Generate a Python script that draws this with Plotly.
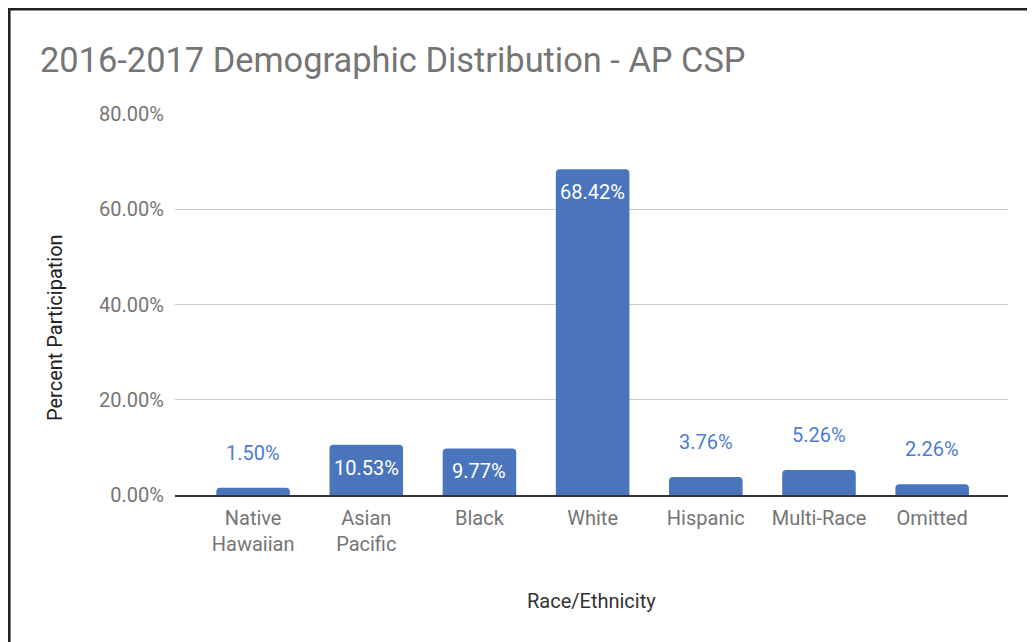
import plotly.graph_objects as go

categories = ["Native<br>Hawaiian", "Asian<br>Pacific", "Black", "White", "Hispanic", "Multi-Race", "Omitted"]
values = [1.50, 10.53, 9.77, 68.42, 3.76, 5.26, 2.26]
y_ticks = [0, 20, 40, 60, 80]

TITLE = "2016-2017 Demographic Distribution - AP CSP"
X_TITLE = "Race/Ethnicity"
Y_TITLE = "Percent Participation"

BAR = "#4a75bd"
LABEL_OUT = "#4d7cd0"
GRAY = "#757575"
FONT = "Roboto"

OFF = 8  # default page body margin
W, H = 1035 - OFF, 642 - OFF
L = 175 - OFF
T = 114 - OFF
R = W - (1008 - OFF)
B = H - (495 - OFF)
pw, ph = W - L - R, H - T - B

def px_x(x):
    return (x - OFF - L) / pw

def px_y(y):
    return (H - B - (y - OFF)) / ph

fig = go.Figure()
fig.add_trace(go.Bar(
    x=categories, y=values, width=0.65,
    marker=dict(color=BAR, cornerradius=4, line=dict(width=0)),
    hoverinfo="skip",
))

annotations = []
for c, v in zip(categories, values):
    inside = v > 8
    annotations.append(dict(
        x=c, y=v, xref="x", yref="y",
        text=f"{v:.2f}%", showarrow=False,
        yanchor="top" if inside else "bottom",
        yshift=-9 if inside else 21,
        font=dict(family=FONT, size=20, color="white" if inside else LABEL_OUT),
    ))

annotations.append(dict(
    x=px_x(591), y=px_y(601), xref="paper", yref="paper",
    text=X_TITLE, showarrow=False, xanchor="center", yanchor="middle",
    font=dict(family=FONT, size=20, color="#333333"),
))
annotations.append(dict(
    x=px_x(55), y=px_y(328), xref="paper", yref="paper",
    text=Y_TITLE, showarrow=False, textangle=-90, xanchor="center", yanchor="middle",
    font=dict(family=FONT, size=20, color="#222222"),
))

FX, FY = OFF + 1.3, OFF + 1.3
shapes = [
    dict(type="line", xref="paper", yref="paper",
         x0=px_x(FX), x1=px_x(FX), y0=px_y(OFF), y1=px_y(700),
         line=dict(color="#222222", width=2.6)),
    dict(type="line", xref="paper", yref="paper",
         x0=px_x(OFF), x1=px_x(1100), y0=px_y(FY), y1=px_y(FY),
         line=dict(color="#222222", width=2.6)),
]

fig.update_layout(
    width=W, height=H,
    margin=dict(l=L, r=R, t=T, b=B),
    paper_bgcolor="white", plot_bgcolor="white",
    title=dict(text=TITLE, x=(40 - OFF) / W, xanchor="left",
               y=1 - (60 - OFF) / H, yanchor="middle",
               font=dict(family=FONT, size=34.4, color=GRAY)),
    showlegend=False,
    annotations=annotations,
    shapes=shapes,
    font=dict(family=FONT),
)

fig.update_xaxes(
    range=[-0.69, 6.67],
    showline=True, linecolor="#333333", linewidth=1.5,
    showgrid=False, ticks="",
    ticklabelstandoff=4,
    tickfont=dict(family=FONT, size=20, color=GRAY),
)
fig.update_yaxes(
    range=[0, 80], tickvals=y_ticks,
    ticktext=[f"{t:.2f}%" for t in y_ticks],
    showgrid=True, gridcolor="#cccccc", gridwidth=1,
    zeroline=False, showline=False, ticks="",
    ticklabelstandoff=10,
    tickfont=dict(family=FONT, size=20, color=GRAY),
)

fig.write_html("out.html")
